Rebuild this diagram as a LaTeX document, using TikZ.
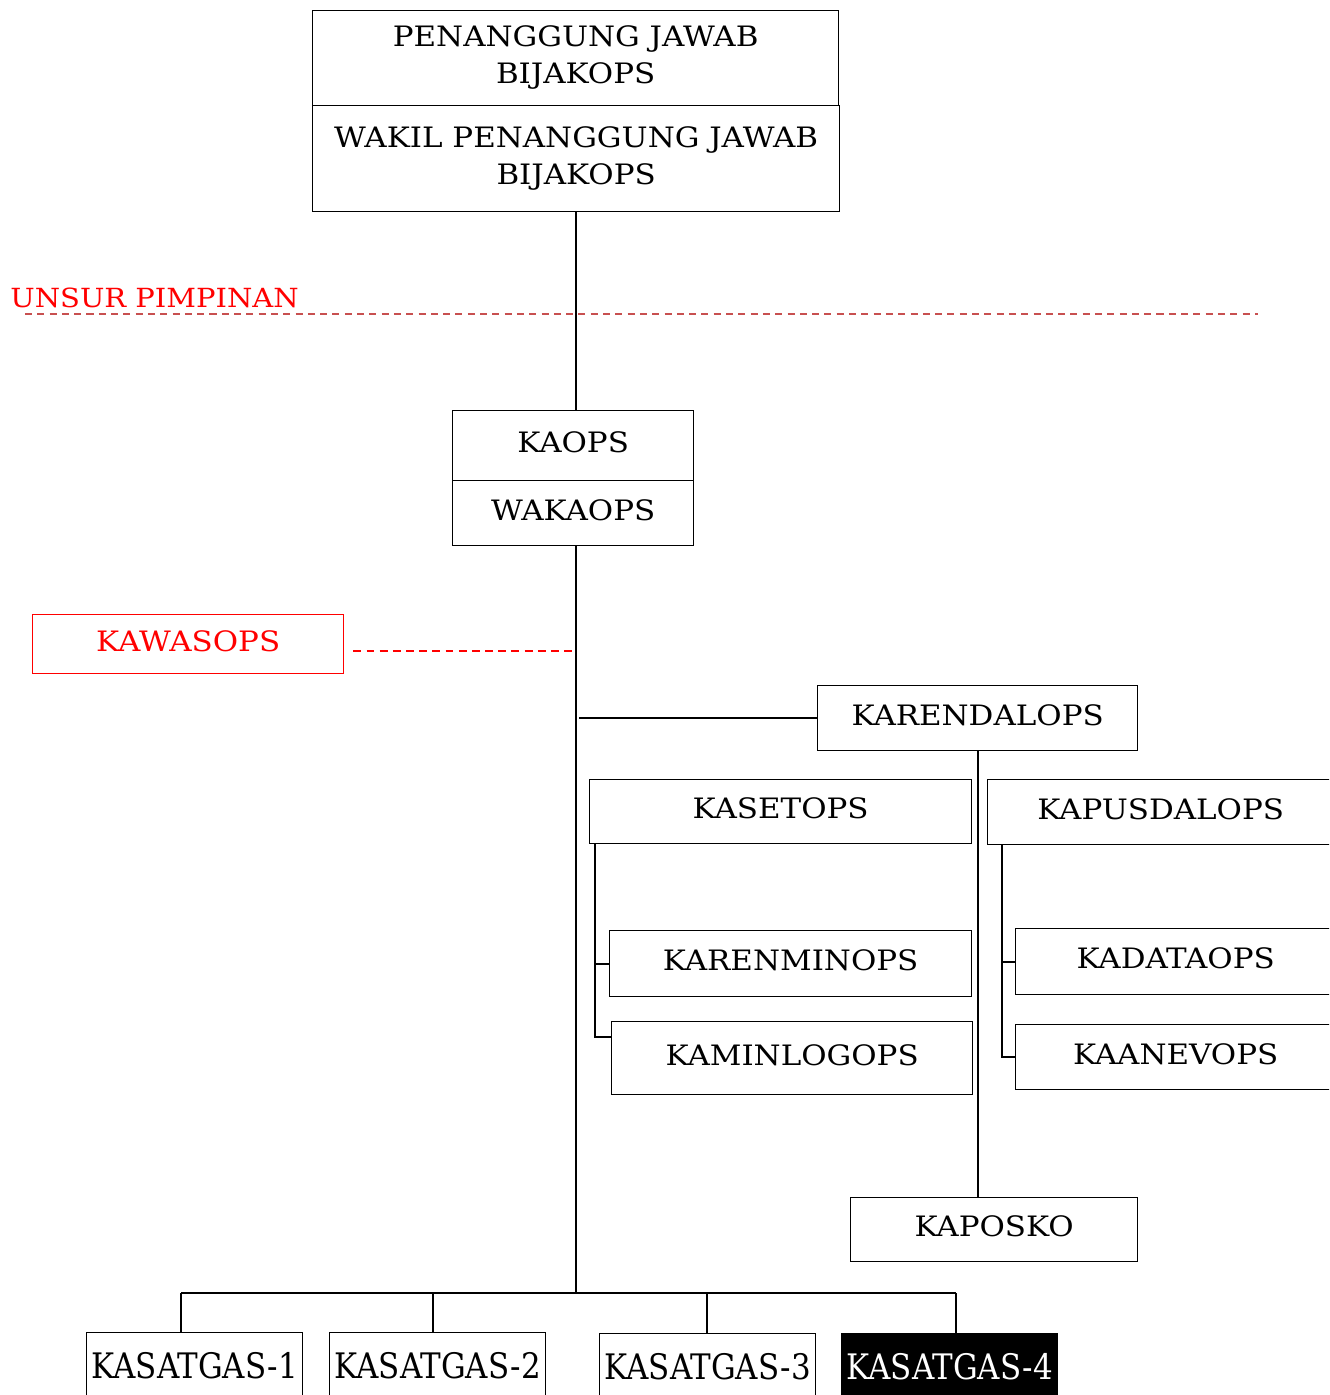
\documentclass[tikz,border=0pt]{standalone}
\usepackage{fontspec}
\setmainfont{DejaVu Serif}[FakeStretch=1.1]
\definecolor{pudar}{RGB}{200,80,80}

\begin{document}
\begin{tikzpicture}[x=.02cm, y=-.02cm,
  kotak/.style={draw, line width=.8pt, inner sep=0pt, align=center, anchor=north west, text depth=.14cm, font=\fontsize{16}{21}\selectfont},
  satgas/.style={kotak, text depth=0pt, minimum width=4.32cm, minimum height=1.32cm},
  garis/.style={line width=1pt},
  merah/.style={red, line width=1pt, dash pattern=on 4.5pt off 3pt}]
\useasboundingbox (0,0) rectangle (1329,1395);
\clip (0,0) rectangle (1329,1395);

\node[kotak, minimum width=10.52cm, minimum height=1.9cm] (pj) at (312,10) {PENANGGUNG JAWAB\\BIJAKOPS};
\node[kotak, minimum width=10.54cm, minimum height=2.12cm] (wpj) at (312,105) {WAKIL PENANGGUNG JAWAB\\BIJAKOPS};

\node[red, anchor=base west, inner sep=0pt, font=\fontsize{15}{21}\selectfont] (unsur) at (10,308) {UNSUR PIMPINAN};
\coordinate (ukiri) at (25,314);
\coordinate (ukanan) at (1258,314);
\draw[pudar, line width=.8pt, dash pattern=on 4pt off 3pt] (ukiri) -- (ukanan);

\node[kotak, minimum width=4.82cm, minimum height=1.4cm] (kaops) at (452,410) {KAOPS};
\node[kotak, minimum width=4.82cm, minimum height=1.3cm] (wakaops) at (452,480) {WAKAOPS};

\node[kotak, red, minimum width=6.22cm, minimum height=1.18cm] (kawasops) at (32,614) {KAWASOPS};

\node[kotak, minimum width=6.4cm, minimum height=1.3cm] (karendalops) at (817,685) {KARENDALOPS};
\node[kotak, minimum width=7.64cm, minimum height=1.28cm] (kasetops) at (589,779) {KASETOPS};
\node[kotak, minimum width=7.24cm, minimum height=1.32cm] (karenminops) at (609,930) {KARENMINOPS};
\node[kotak, minimum width=7.22cm, minimum height=1.46cm] (kaminlogops) at (611,1021) {KAMINLOGOPS};
\node[kotak, minimum width=6.92cm, minimum height=1.3cm] (kapusdalops) at (987,779) {KAPUSDALOPS};
\node[kotak, minimum width=6.4cm, minimum height=1.32cm] (kadataops) at (1015,928) {KADATAOPS};
\node[kotak, minimum width=6.4cm, minimum height=1.3cm] (kaanevops) at (1015,1024) {KAANEVOPS};
\node[kotak, minimum width=5.74cm, minimum height=1.28cm] (kaposko) at (850,1197) {KAPOSKO};

\node[satgas] (satgas1) at (86,1332) {\scalebox{1}[1.25]{KASATGAS-1}};
\node[satgas] (satgas2) at (329,1332) {\scalebox{1}[1.25]{KASATGAS-2}};
\node[satgas] (satgas3) at (599,1333) {\scalebox{1}[1.25]{KASATGAS-3}};
\node[satgas, fill=black, text=white] (satgas4) at (841,1333) {\scalebox{1}[1.25]{KASATGAS-4}};

% garis komando
\coordinate (bar) at (576,1293);
\draw[garis] (wpj.south) -- (wpj.south |- kaops.north);
\draw[garis] (bar |- wakaops.south) -- (bar);
\draw[merah] ([xshift=.18cm, yshift=-.13cm]kawasops.east) -- ([yshift=-.13cm]kawasops.east -| bar);
\draw[garis] (karendalops.west) -- ([xshift=.06cm]karendalops.west -| bar);
\draw[garis] (karendalops.south) -- (karendalops.south |- kaposko.north);

\draw[garis] ([xshift=.12cm]kasetops.south west) |- ([yshift=.42cm]kaminlogops.west);
\draw[garis] ([xshift=.12cm]kasetops.south west |- karenminops.west) -- (karenminops.west);
\draw[garis] ([xshift=.3cm]kapusdalops.south west) |- (kaanevops.west);
\draw[garis] ([xshift=.3cm]kapusdalops.south west |- kadataops.west) -- (kadataops.west);

% satgas
\coordinate (s1) at (181,1293);
\coordinate (s2) at (433,1293);
\coordinate (s3) at (707,1293);
\coordinate (s4) at (956,1293);
\draw[garis] (s1) -- (s4);
\foreach \i in {1,...,4}
  \draw[garis] (s\i) -- (s\i |- satgas\i.north);
\end{tikzpicture}
\end{document}
